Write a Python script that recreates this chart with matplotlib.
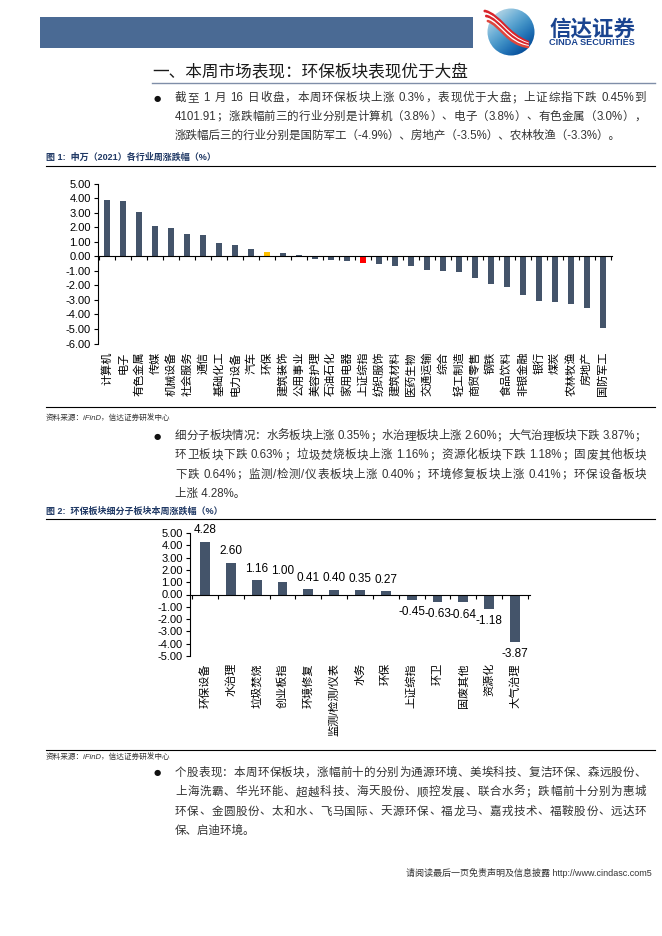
import matplotlib
matplotlib.use("Agg")
import matplotlib.pyplot as plt
from matplotlib.patches import Rectangle, Circle, PathPatch
from matplotlib.path import Path
import numpy as np

plt.rcParams['font.family'] = ['Liberation Sans', 'Noto Sans CJK SC', 'DejaVu Sans']

W, H = 662, 936

# 图1 data: 申万(2021)各行业周涨跌幅
industries = ["计算机", "电子", "有色金属", "传媒", "机械设备", "社会服务", "通信",
              "基础化工", "电力设备", "汽车", "环保", "建筑装饰", "公用事业", "美容护理",
              "石油石化", "家用电器", "上证综指", "纺织服饰", "建筑材料", "医药生物",
              "交通运输", "综合", "轻工制造", "商贸零售", "钢铁", "食品饮料", "非银金融",
              "银行", "煤炭", "农林牧渔", "房地产", "国防军工"]
industry_chg = [3.85, 3.78, 3.05, 2.06, 1.93, 1.56, 1.44, 0.92, 0.78, 0.48, 0.28, 0.25,
                0.07, -0.18, -0.25, -0.32, -0.45, -0.53, -0.69, -0.69, -0.94, -1.01,
                -1.10, -1.47, -1.90, -2.11, -2.64, -3.05, -3.12, -3.30, -3.53, -4.92]

# 图2 data: 环保板块细分子板块本周涨跌幅
sub_sectors = ["环保设备", "水治理", "垃圾焚烧", "创业板指", "环境修复", "监测/检测/仪表",
               "水务", "环保", "上证综指", "环卫", "固废其他", "资源化", "大气治理"]
sub_chg = [4.28, 2.60, 1.16, 1.00, 0.41, 0.40, 0.35, 0.27, -0.45, -0.63, -0.64, -1.18, -3.87]

bullet1 = ["截至 1 月 16 日收盘，本周环保板块上涨 0.3%，表现优于大盘；上证综指下跌 0.45%到",
           "4101.91；涨跌幅前三的行业分别是计算机（3.8%）、电子（3.8%）、有色金属（3.0%），",
           "涨跌幅后三的行业分别是国防军工（-4.9%）、房地产（-3.5%）、农林牧渔（-3.3%）。"]
bullet2 = ["细分子板块情况：水务板块上涨 0.35%；水治理板块上涨 2.60%；大气治理板块下跌 3.87%；",
           "环卫板块下跌 0.63%；垃圾焚烧板块上涨 1.16%；资源化板块下跌 1.18%；固废其他板块",
           "下跌 0.64%；监测/检测/仪表板块上涨 0.40%；环境修复板块上涨 0.41%；环保设备板块",
           "上涨 4.28%。"]
bullet3 = ["个股表现：本周环保板块，涨幅前十的分别为通源环境、美埃科技、复洁环保、森远股份、",
           "上海洗霸、华光环能、超越科技、海天股份、顺控发展、联合水务；跌幅前十分别为惠城",
           "环保、金圆股份、太和水、飞马国际、天源环保、福龙马、嘉戎技术、福鞍股份、远达环",
           "保、启迪环境。"]

BAR = "#44546a"
NAVY = "#1f3864"
TXT = "#333333"


def box(x0, y0, x1, y1):
    return [x0 / W, 1 - y1 / H, (x1 - x0) / W, (y1 - y0) / H]


fig = plt.figure(figsize=(W / 100, H / 100), dpi=100)
bg = fig.add_axes([0, 0, 1, 1])
bg.set_xlim(0, W)
bg.set_ylim(H, 0)
bg.axis("off")
renderer = fig.canvas.get_renderer()

# header banner + logo
bg.add_patch(Rectangle((40, 17), 433, 31, color="#4a6a94", lw=0))
grad = np.linspace(0, 1, 200)
gx, gy = np.meshgrid(grad, grad)
img = bg.imshow(gx * 0.5 + gy * 0.6, extent=(487, 535, 56, 8), cmap="Blues",
                vmin=-0.3, vmax=1.1, zorder=2)
circ = Circle((511, 32), 23.5, transform=bg.transData, facecolor="none", edgecolor="none")
bg.add_patch(circ)
img.set_clip_path(circ)
for off, c, lw in [(-4, "#d9242b", 2.0), (-1.5, "white", 1.3), (1, "#d9242b", 2.0),
                   (3.5, "white", 1.3), (6, "#e0463c", 1.8)]:
    verts = [(486 + off * 0.3, 15 + off), (500, 19 + off), (507, 38 + off), (528, 44 + off * 0.5)]
    p = Path(verts, [Path.MOVETO, Path.CURVE4, Path.CURVE4, Path.CURVE4])
    bg.add_patch(PathPatch(p, facecolor="none", edgecolor=c, lw=lw, zorder=3, capstyle="round"))
bg.text(549, 29, "信达证券", fontsize=15.5, fontweight="bold", color="#1a4490",
        ha="left", va="center", family=["Noto Sans CJK SC"])
bg.text(549, 42.5, "CINDA SECURITIES", fontsize=6.6, fontweight="bold", color="#1a4490",
        ha="left", va="center")

# section title
bg.text(152, 72, "一、本周市场表现：环保板块表现优于大盘", fontsize=12, color="#1a1a1a",
        ha="left", va="center")
bg.plot([152, 655], [83, 83], color="#7f8ea8", lw=1)


def tokens(line):
    out, buf = [], ""
    for ch in line:
        if ord(ch) < 128 and ch != " ":
            buf += ch
        else:
            if buf:
                out.append(buf)
                buf = ""
            out.append(ch)
    if buf:
        out.append(buf)
    return out


def justified(line, x0, x1, y, size):
    toks = tokens(line)
    widths = []
    for t in toks:
        tt = bg.text(0, 0, t if t != " " else "a", fontsize=size)
        w = tt.get_window_extent(renderer).width
        tt.remove()
        widths.append(w * 0.5 if t == " " else w)
    gap = (x1 - x0 - sum(widths)) / max(len(toks) - 1, 1)
    x = x0
    for t, w in zip(toks, widths):
        if t != " ":
            bg.text(x, y, t, fontsize=size, color=TXT, ha="left", va="center")
        x += w + gap


def bullet(lines, y0, step, size=8.3):
    bg.text(157, y0, "●", fontsize=6, color="#111111", ha="center", va="center",
            family=["DejaVu Sans"])
    for k, line in enumerate(lines):
        y = y0 + k * step
        if k < len(lines) - 1:
            justified(line, 175, 646, y, size)
        else:
            bg.text(175, y, line, fontsize=size, color=TXT, ha="left", va="center")


bullet(bullet1, 98, 18.8)
bullet(bullet2, 436, 19.3)
bullet(bullet3, 773, 19.3)

# captions and rules
bg.text(46, 157, "图 1:  申万（2021）各行业周涨跌幅（%）", fontsize=6.5, fontweight="bold",
        color=NAVY, ha="left", va="center")
bg.plot([46, 655], [166, 166], color="black", lw=0.8)
bg.plot([46, 655], [407, 407], color="black", lw=0.8)
bg.text(46, 418, "资料来源：iFinD，信达证券研发中心", fontsize=5.5, style="italic",
        color=TXT, ha="left", va="center")

bg.text(46, 511, "图 2:  环保板块细分子板块本周涨跌幅（%）", fontsize=6.5, fontweight="bold",
        color=NAVY, ha="left", va="center")
bg.plot([46, 655], [519, 519], color="black", lw=0.8)
bg.plot([46, 655], [750, 750], color="black", lw=0.8)
bg.text(46, 757, "资料来源：iFinD，信达证券研发中心", fontsize=5.5, style="italic",
        color=TXT, ha="left", va="center")

bg.text(652, 873, "请阅读最后一页免责声明及信息披露 http://www.cindasc.com5", fontsize=6.5,
        color=TXT, ha="right", va="center")


def bar_chart(rect, cats, vals, colors, ylim, width, label_gap, data_labels):
    ax = fig.add_axes(rect)
    n = len(cats)
    x = np.arange(n)
    ax.bar(x, vals, width=width, color=colors, zorder=2)
    ax.set_ylim(*ylim)
    ax.set_xlim(-0.58, n - 1 + 0.58)
    ax.set_yticks(np.arange(ylim[0], ylim[1] + 0.5, 1.0))
    ax.yaxis.set_major_formatter(matplotlib.ticker.FormatStrFormatter("%.2f"))
    ax.tick_params(axis="y", direction="out", length=3, width=0.8, labelsize=8, pad=2)
    for s in ["top", "right"]:
        ax.spines[s].set_visible(False)
    ax.spines["left"].set_linewidth(0.8)
    ax.spines["bottom"].set_position(("data", 0))
    ax.spines["bottom"].set_linewidth(0.8)
    ax.set_xticks([])
    ax.set_xticks(np.arange(-0.5, n), minor=True)
    ax.tick_params(axis="x", which="minor", direction="out", length=3, width=0.8)
    ax.patch.set_alpha(0)
    trans = matplotlib.transforms.offset_copy(ax.get_xaxis_transform(), fig=fig,
                                              x=0, y=-label_gap, units="dots")
    for i, c in enumerate(cats):
        ax.text(i, 0, c, rotation=90, ha="center", va="top", fontsize=8,
                transform=trans, color="black")
    if data_labels:
        for i, v in enumerate(vals):
            ax.annotate(f"{v:.2f}", (i, v), xytext=(0, 4 if v >= 0 else -4.5),
                        textcoords="offset points", ha="center",
                        va="bottom" if v >= 0 else "top", fontsize=8.5)
    return ax


colors1 = [BAR] * len(industries)
colors1[industries.index("环保")] = "#ffc000"
colors1[industries.index("上证综指")] = "#ff0000"
bar_chart(box(98, 183.5, 612, 343.5), industries, industry_chg, colors1, (-6, 5),
          0.4, 8, False)
bar_chart(box(190, 533, 530, 656), sub_sectors, sub_chg, [BAR] * len(sub_sectors),
          (-5, 5), 0.38, 7, True)

fig.savefig("out.png", dpi=100)
